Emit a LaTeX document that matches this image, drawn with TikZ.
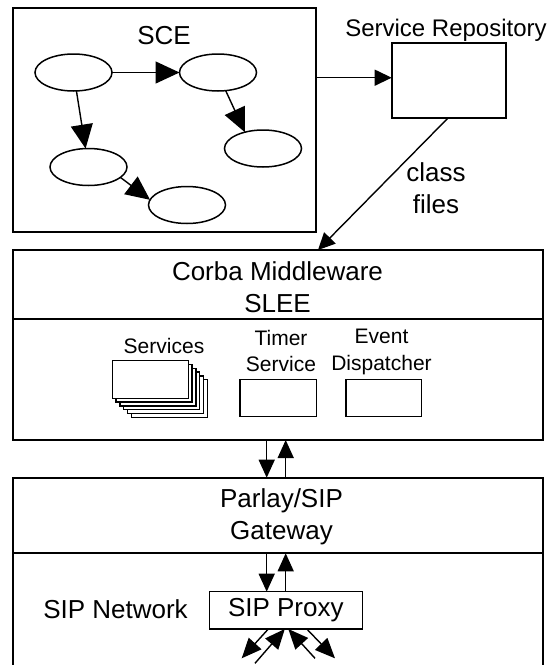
\documentclass[tikz,border=0pt]{standalone}
\usepackage{fontspec}
\setmainfont{Liberation Sans}
\usetikzlibrary{arrows.meta,shapes.geometric}
\begin{document}
\begin{tikzpicture}[x=1pt,y=-1pt,
  box/.style={draw, line width=1.8pt, inner sep=0pt, outer sep=0pt},
  stack/.style={draw, fill=white, line width=1.4pt, inner sep=0pt, outer sep=0pt, minimum width=76pt, minimum height=37.6pt},
  ell/.style={draw, ellipse, line width=1.5pt, inner sep=0pt, outer sep=0pt, minimum width=77pt, minimum height=37pt},
  bigarr/.style={line width=1.4pt, -{Triangle[length=24pt,width=22pt]}},
  arr/.style={line width=1.4pt, -{Triangle[length=17pt,width=16pt]}},
  varr/.style={line width=1.4pt, -{Triangle[length=18pt,width=16pt]}},
  barr/.style={line width=1.4pt, -{Triangle[length=20pt,width=17pt]}},
  bigtxt/.style={font=\fontsize{26}{32}\selectfont, align=center, inner sep=0pt},
  midtxt/.style={font=\fontsize{24}{29}\selectfont, align=center, inner sep=0pt},
  smalltxt/.style={font=\fontsize{21}{26.5}\selectfont, align=center, inner sep=0pt}
]
\useasboundingbox (0,0) rectangle (550,665);

% SCE
\node[box, minimum width=303.3pt, minimum height=223.4pt] (sce) at (164.35,120) {};
\node[bigtxt, anchor=base] (sceT) at (164,44) {SCE};
\node[ell] (e1) at (73.5,72.5) {};
\node[ell] (e2) at (218,72.5) {};
\node[ell] (e3) at (263,148.5) {};
\node[ell] (e4) at (88.5,167) {};
\node[ell] (e5) at (187,205) {};
\draw[bigarr] (e1) -- (e2);
\draw[bigarr] (e1) -- (e4);
\draw[bigarr] (e2.-67.7) -- (e3.138.8);
\draw[bigarr] (e4.-18.7) -- (e5.172.5);

% Service repository
\node[box, minimum width=114pt, minimum height=75pt] (repo) at (448.7,80.8) {};
\node[midtxt, anchor=base] (repoT) at (446,36) {Service Repository};
\coordinate (ya) at (0,77.7);
\draw[arr] (sce.east |- ya) -- (repo.west |- ya);

% SLEE
\node[box, minimum width=530.6pt, minimum height=69.3pt] (sleeTop) at (278,284.65) {};
\node[box, minimum width=530.6pt, minimum height=120.7pt] (sleeB) at (278,379.65) {};
\node[bigtxt] (sleeT) at (277.5,287) {Corba Middleware\\SLEE};

\coordinate (cf) at (318,0);
\draw[arr] ([xshift=-1pt]repo.south) -- (sleeTop.north -| cf);
\node[bigtxt] (cfT) at (436,188.5) {class\\files};

% Services stack
\foreach \k in {5,4,3,2,1} {
  \node[stack] (serv\k) at (150.3+3.8*\k, 379.5+3.8*\k) {};
}
\node[stack] (serv0) at (150.3,379.5) {};
\node[smalltxt, anchor=base] (servT) at (164,353) {Services};

\node[box, line width=1.5pt, minimum width=76.7pt, minimum height=37.4pt] (timer) at (278.35,398) {};
\node[smalltxt] (timerT) at (281,351) {Timer\\Service};
\node[box, line width=1.5pt, minimum width=75.7pt, minimum height=37.4pt] (event) at (383.85,398) {};
\node[smalltxt] (eventT) at (381.5,352) {Event\\Dispatcher};

% Gateway
\node[box, minimum width=530.6pt, minimum height=75.6pt] (gw) at (278,515.5) {};
\node[bigtxt] (gwT) at (281.5,517) {Parlay/SIP\\Gateway};
\coordinate (bot) at (0,668);
\draw[line width=1.8pt] (gw.south west) -- (gw.south west |- bot);
\draw[line width=1.8pt] (gw.south east) -- (gw.south east |- bot);

\coordinate (xd) at (266.7,0);
\coordinate (xu) at (285.7,0);
\draw[varr] (sleeB.south -| xd) -- (gw.north -| xd);
\draw[varr] (gw.north -| xu) -- (sleeB.south -| xu);

% SIP network
\node[bigtxt, anchor=base] (netT) at (115.5,618) {SIP Network};
\node[box, line width=1.5pt, minimum width=153pt, minimum height=37.3pt, font=\fontsize{26}{32}\selectfont] (proxy) at (285.8,610.35) {SIP Proxy};
\draw[varr] (gw.south -| xd) -- (proxy.north -| xd);
\draw[varr] (proxy.north -| xu) -- (gw.south -| xu);

\coordinate (a1) at (241.7,658.3);
\coordinate (a2) at (255,663.3);
\coordinate (a3) at (315,658.3);
\coordinate (a4) at (335,658.3);
\draw[barr] ([xshift=-17.5pt]proxy.south) -- (a1);
\draw[barr] (a2) -- ([xshift=-1pt]proxy.south);
\draw[barr] (a3) -- ([xshift=2.5pt]proxy.south);
\draw[barr] ([xshift=21pt]proxy.south) -- (a4);
\end{tikzpicture}
\end{document}
